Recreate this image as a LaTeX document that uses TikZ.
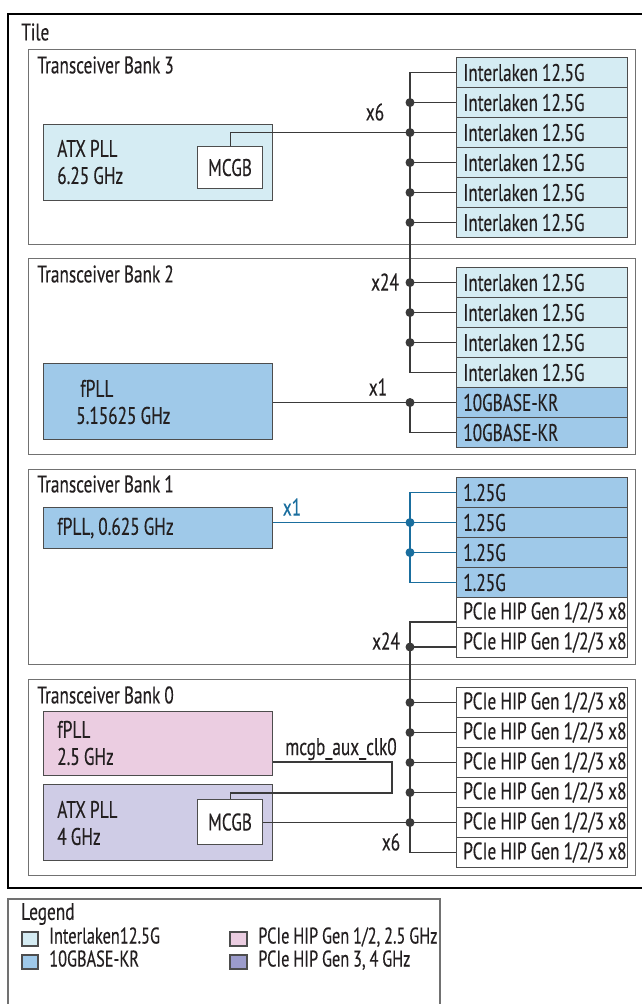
\documentclass[tikz,border=0pt]{standalone}
\usepackage{fontspec}
\setmainfont{PT Sans}[FakeStretch=0.72, FakeBold=0.3]
\usetikzlibrary{calc}

\definecolor{ink}{HTML}{231F20}
\definecolor{edge}{HTML}{4D4D4D}
\definecolor{ilkn}{HTML}{D5ECF3}
\definecolor{kr}{HTML}{9FC9E9}
\definecolor{pink}{HTML}{EBCDE1}
\definecolor{lav}{HTML}{CFCCE6}
\definecolor{lavdark}{HTML}{9C9CCC}
\definecolor{wire}{HTML}{3A3A3A}
\definecolor{bluewire}{HTML}{1A6E9E}

% one drawing unit = one pixel = 0.75pt
\newcommand{\pxu}[1]{#1*0.75pt}
\newcommand{\diagfont}{\fontsize{18}{20.25}\selectfont\spaceskip=0.17em plus 0.05em\relax}
\newcommand{\legendfont}{\fontsize{17}{19}\selectfont\spaceskip=0.17em plus 0.05em\relax}

\tikzset{
  every node/.style={text=ink, font=\diagfont},
  tilebox/.style={draw=black, line width=2.2pt},
  bankbox/.style={draw=edge!80, line width=1pt, anchor=north west, inner sep=0pt},
  plainbox/.style={draw=edge, line width=0.8pt, anchor=north west, inner sep=0pt},
  lane/.style={draw=edge, line width=0.8pt, anchor=north west, minimum width=\pxu{171},
    minimum height=\pxu{30}, inner sep=0pt},
  lanetext/.style={anchor=west, inner sep=0pt, xshift=\pxu{7}},
  txt/.style={anchor=west, inner sep=0pt, align=left},
  legendtxt/.style={txt, font=\legendfont, text height=\pxu{12}, text depth=\pxu{3}},
  wiring/.style={draw=wire, line width=0.8pt},
  bluewiring/.style={draw=bluewire, line width=0.9pt},
  junction/.style={circle, fill=wire, inner sep=0pt, minimum size=\pxu{9}},
  bluejunction/.style={circle, fill=bluewire, inner sep=0pt, minimum size=\pxu{9}},
  swatch/.style={draw=edge, line width=0.8pt},
}

\begin{document}
\begin{tikzpicture}[x=0.75pt, y=-0.75pt]
\useasboundingbox (0,0) rectangle (642,1004);
\coordinate (busX) at (410,0);

% outer tile
\draw[tilebox] (8,14) rectangle (680,888);
\node[txt] (tiletitle) at (21,32) {Tile};

% ---------------- Transceiver Bank 3 ----------------
\node[bankbox, minimum width=\pxu{607}, minimum height=\pxu{195}] (bank3) at (28,49) {};
\node[txt] (bank3title) at (37,65) {Transceiver Bank 3};
\node[plainbox, fill=ilkn, minimum width=\pxu{229}, minimum height=\pxu{76}] (atx3) at (43,124) {};
\node[txt] (atx3text) at (57,162) {ATX PLL\\6.25 GHz};
\node[plainbox, fill=white, minimum width=\pxu{65}, minimum height=\pxu{42}] (mcgb3) at (197,146) {};
\node (mcgb3text) at (mcgb3.center) {MCGB};
\foreach \n/\y in {a/57,b/87,c/117,d/147,e/177,f/207} {
  \node[lane, fill=ilkn] (r3\n) at (456,\y) {};
  \node[lanetext] (t3\n) at (r3\n.west) {Interlaken 12.5G};
}

% ---------------- Transceiver Bank 2 ----------------
\node[bankbox, minimum width=\pxu{607}, minimum height=\pxu{196}] (bank2) at (28,258) {};
\node[txt] (bank2title) at (37,274) {Transceiver Bank 2};
\node[plainbox, fill=kr, minimum width=\pxu{229}, minimum height=\pxu{76}] (fpll2) at (43,363) {};
\node[txt] (fpll2text) at (76,402) {\,fPLL\\5.15625 GHz};
\foreach \n/\y in {a/267,b/297,c/327,d/357} {
  \node[lane, fill=ilkn] (r2\n) at (456,\y) {};
  \node[lanetext] (t2\n) at (r2\n.west) {Interlaken 12.5G};
}
\foreach \n/\y in {e/387,f/417} {
  \node[lane, fill=kr] (r2\n) at (456,\y) {};
  \node[lanetext] (t2\n) at (r2\n.west) {10GBASE-KR};
}

% ---------------- Transceiver Bank 1 ----------------
\node[bankbox, minimum width=\pxu{607}, minimum height=\pxu{195}] (bank1) at (28,469) {};
\node[txt] (bank1title) at (37,484) {Transceiver Bank 1};
\node[plainbox, fill=kr, minimum width=\pxu{229}, minimum height=\pxu{41}] (fpll1) at (43,507) {};
\node[txt] (fpll1text) at (57,528) {fPLL, 0.625 GHz};
\foreach \n/\y in {a/477,b/507,c/537,d/567} {
  \node[lane, fill=kr] (r1\n) at (456,\y) {};
  \node[lanetext] (t1\n) at (r1\n.west) {1.25G};
}
\foreach \n/\y in {e/597,f/627} {
  \node[lane, fill=white] (r1\n) at (456,\y) {};
  \node[lanetext] (t1\n) at (r1\n.west) {PCIe HIP Gen 1/2/3 x8};
}

% ---------------- Transceiver Bank 0 ----------------
\node[bankbox, minimum width=\pxu{607}, minimum height=\pxu{196}] (bank0) at (28,679) {};
\node[txt] (bank0title) at (37,695) {Transceiver Bank 0};
\node[plainbox, fill=pink, minimum width=\pxu{229}, minimum height=\pxu{64}] (fpll0) at (43,711) {};
\node[txt] (fpll0text) at (57,743) {fPLL\\2.5 GHz};
\node[plainbox, fill=lav, minimum width=\pxu{229}, minimum height=\pxu{76}] (atx0) at (43,784) {};
\node[txt] (atx0text) at (57,823) {ATX PLL\\4 GHz};
\node[plainbox, fill=white, minimum width=\pxu{65}, minimum height=\pxu{45}] (mcgb0) at (197,799) {};
\node (mcgb0text) at (mcgb0.center) {MCGB};
\foreach \n/\y in {a/687,b/717,c/747,d/777,e/807,f/837} {
  \node[lane, fill=white] (r0\n) at (456,\y) {};
  \node[lanetext] (t0\n) at (r0\n.west) {PCIe HIP Gen 1/2/3 x8};
}

% ---------------- clock network, banks 3 and 2 ----------------
\draw[wiring] (r3a.west) -- (r3a.west -| busX) -- (r2d.west -| busX) -- (r2d.west);
\foreach \n in {b,c,d,e,f} {
  \draw[wiring] (r3\n.west -| busX) -- (r3\n.west);
  \node[junction] at (r3\n.west -| busX) {};
}
\draw[wiring] (mcgb3.north) |- (r3c.west -| busX);
\foreach \n in {a,b,c} {
  \draw[wiring] (r2\n.west -| busX) -- (r2\n.west);
  \node[junction] at (r2\n.west -| busX) {};
}
\node (x6top) at (375,112) {x6};
\node (x24mid) at (385,282) {x24};

% 10GBASE-KR pair fed by the fPLL
\draw[wiring] (fpll2.east |- r2e.west) -- (r2e.west);
\draw[wiring] (r2e.west -| busX) -- (r2f.west -| busX) -- (r2f.west);
\node[junction] at (r2e.west -| busX) {};
\node (x1kr) at (378,387) {x1};

% ---------------- bank 1, 1.25G lanes ----------------
\draw[bluewiring] (r1a.west) -- (r1a.west -| busX) -- (r1d.west -| busX) -- (r1d.west);
\draw[bluewiring] (fpll1.east |- r1b.west) -- (r1b.west);
\draw[bluewiring] (r1c.west -| busX) -- (r1c.west);
\node[bluejunction] at (r1b.west -| busX) {};
\node[bluejunction] at (r1c.west -| busX) {};
\node[text=bluewire] (x1blue) at (292,507) {x1};

% ---------------- PCIe bus, banks 1 and 0 ----------------
\coordinate (pcieTop) at (456,622);
\coordinate (pcieB) at (456,647);
\draw[wiring] (pcieTop) -- (pcieTop -| busX) -- (r0f.west -| busX) -- (r0f.west);
\draw[wiring] (pcieB -| busX) -- (pcieB);
\node[junction] at (pcieB -| busX) {};
\node (x24low) at (386,641) {x24};
\foreach \n in {a,b,c,d,e} {
  \draw[wiring] (r0\n.west -| busX) -- (r0\n.west);
  \node[junction] at (r0\n.west -| busX) {};
}
\draw[wiring] (mcgb0.east) -- (mcgb0.east -| busX);
\node (x6low) at (391,842) {x6};

% mcgb_aux_clk0 from the fPLL into the ATX PLL's MCGB
\coordinate (auxTurn) at (392,762);
\coordinate (auxLow) at (392,793);
\draw[wiring] (fpll0.east |- auxTurn) -- (auxTurn) -- (auxLow) -- (mcgb0.north |- auxLow) -- (mcgb0.north);
\node (auxlabel) at (341,749) {mcgb\_aux\_clk0};

% ---------------- legend ----------------
\draw[draw=edge!80, line width=1pt] (8,899) rectangle (440,1030);
\node[txt] (legendtitle) at (21,914) {Legend};
\draw[swatch, fill=ilkn] (22,932) rectangle (38,946);
\draw[swatch, fill=kr] (22,955) rectangle (38,969);
\draw[swatch, fill=pink] (230,932) rectangle (247,946);
\draw[swatch, fill=lavdark] (230,955) rectangle (247,969);
\node[legendtxt] (lgA) at (49,939) {Interlaken12.5G};
\node[legendtxt] (lgB) at (49,962) {10GBASE-KR};
\node[legendtxt] (lgC) at (258,939) {PCIe HIP Gen 1/2, 2.5 GHz};
\node[legendtxt] (lgD) at (258,962) {PCIe HIP Gen 3, 4 GHz};
\end{tikzpicture}
\end{document}
